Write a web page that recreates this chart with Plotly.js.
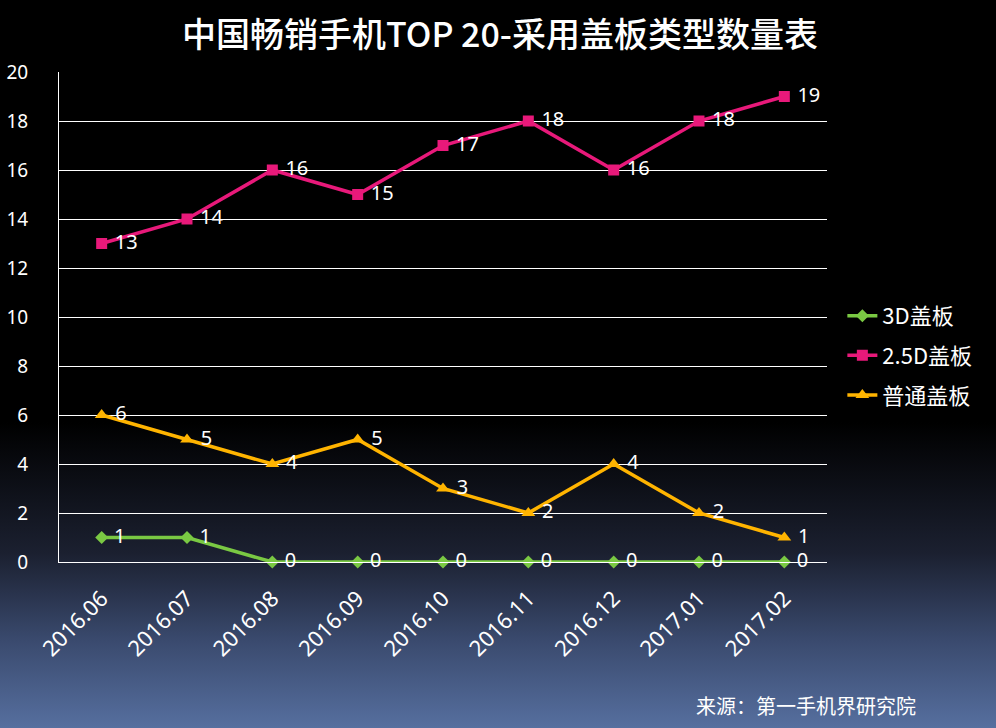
<!DOCTYPE html>
<html>
<head>
<meta charset="utf-8">
<script src="https://cdn.plot.ly/plotly-3.0.1.min.js"></script>
<style>
  html, body { margin: 0; padding: 0; }
  body {
    width: 996px; height: 728px; overflow: hidden;
    background: linear-gradient(to bottom, #000000 0%, #000000 58%, #1b2030 76%, #3a4a6e 88%, #566f9f 100%);
  }
  #chart { width: 996px; height: 728px; }
</style>
</head>
<body>
<div id="chart"></div>
<script>
/* ---- data ---- */
const months = ['2016.06', '2016.07', '2016.08', '2016.09', '2016.10', '2016.11', '2016.12', '2017.01', '2017.02'];
const cover3D = [1, 1, 0, 0, 0, 0, 0, 0, 0];
const cover25D = [13, 14, 16, 15, 17, 18, 16, 18, 19];
const coverNormal = [6, 5, 4, 5, 3, 2, 4, 2, 1];
const yTicks = [0, 2, 4, 6, 8, 10, 12, 14, 16, 18, 20];

const numFont = 'Noto Sans, DejaVu Sans, sans-serif';
const cjkFont = 'Noto Sans CJK SC, sans-serif';

const series = (name, ys, color, symbol, size, group) => ({
  x: months, y: ys, name, type: 'scatter', mode: 'lines+markers+text',
  line: { color, width: 3.5 },
  marker: { color, symbol, size },
  text: ys.map(v => ' ' + v), textposition: 'middle right',
  textfont: { family: numFont, size: 20, color: '#ffffff' },
  legendgroup: group, cliponaxis: false, hoverinfo: 'x+y'
});

const traces = [
  series('3D盖板', cover3D, '#7ac943', 'diamond', 10, 'a'),
  series('2.5D盖板', cover25D, '#e8197a', 'square', 11, 'b'),
  series('普通盖板', coverNormal, '#ffb400', 'triangle-up', 12, 'c')
];

const layout = {
  width: 996, height: 728,
  paper_bgcolor: 'rgba(0,0,0,0)',
  plot_bgcolor: 'rgba(0,0,0,0)',
  margin: { t: 72, l: 59, r: 169, b: 166 },
  font: { family: numFont, color: '#ffffff' },
  title: {
    text: '中国畅销手机TOP 20-采用盖板类型数量表',
    font: { family: cjkFont, size: 34, color: '#ffffff', weight: 500 },
    x: 0.502, xanchor: 'center', y: 0.952, yanchor: 'middle'
  },
  xaxis: {
    type: 'category', range: [-0.5, 8.5],
    showline: true, linecolor: '#ffffff', linewidth: 1,
    showgrid: false, ticks: '', ticklabelstandoff: 14,
    tickangle: -45, tickfont: { family: numFont, size: 22, color: '#ffffff' }
  },
  yaxis: {
    range: [0, 20], tickvals: yTicks, ticktext: yTicks.map(String),
    showline: true, linecolor: '#ffffff', linewidth: 1,
    showgrid: true, gridcolor: '#ffffff', gridwidth: 1, zeroline: false,
    ticks: '', ticklabelstandoff: 26,
    tickfont: { family: numFont, size: 19, color: '#ffffff' }
  },
  showlegend: true,
  legend: {
    x: 1.02, xanchor: 'left', y: 0.545, yanchor: 'top',
    bgcolor: 'rgba(0,0,0,0)', tracegroupgap: 8,
    font: { family: cjkFont, size: 22, color: '#ffffff' }
  },
  annotations: [{
    text: '来源：第一手机界研究院', xref: 'paper', yref: 'paper',
    x: 1.118, xanchor: 'right', y: -0.292, yanchor: 'middle',
    showarrow: false, font: { family: cjkFont, size: 20, color: '#ffffff' }
  }]
};

Plotly.newPlot('chart', traces, layout, { displayModeBar: false });
</script>
</body>
</html>
